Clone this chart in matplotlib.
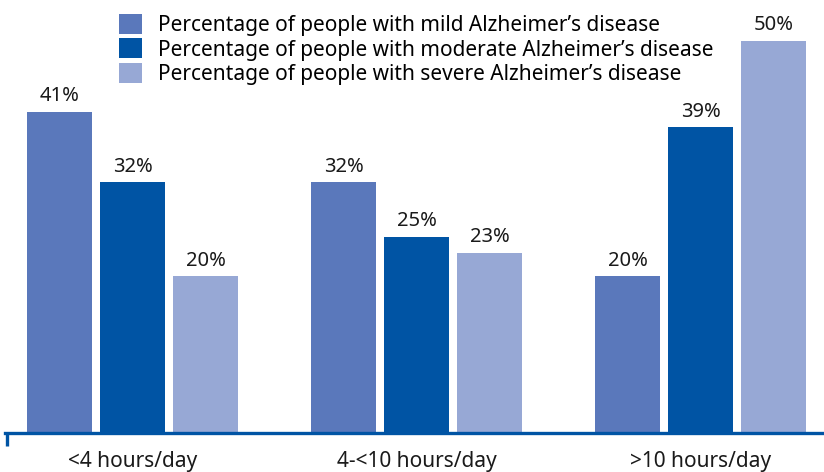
import matplotlib
matplotlib.use("Agg")
import matplotlib.pyplot as plt
from matplotlib.patches import Patch
import numpy as np

categories = ["<4 hours/day", "4-<10 hours/day", ">10 hours/day"]
series_names = ["Percentage of people with mild Alzheimer\u2019s disease",
                "Percentage of people with moderate Alzheimer\u2019s disease",
                "Percentage of people with severe Alzheimer\u2019s disease"]
mild = [41, 32, 20]
moderate = [32, 25, 39]
severe = [20, 23, 50]
colors = ["#5a78bb", "#0054a4", "#97a8d5"]

plt.rcParams['font.family'] = ['Noto Sans', 'DejaVu Sans']

W, H = 824, 472
fig = plt.figure(figsize=(W/100, H/100), dpi=100)
ax = fig.add_axes([5/W, 39/H, 1 - 5/W, 432/H])

x = np.arange(len(categories))
bw = 0.232
off = 0.257
for i, (vals, c) in enumerate(zip([mild, moderate, severe], colors)):
    pos = x + (i - 1) * off
    bars = ax.bar(pos, vals, width=bw, color=c, label=series_names[i])
    for b, v in zip(bars, vals):
        ax.annotate(f"{v}%", (b.get_x() + b.get_width()/2, v), xytext=(0, 4),
                    textcoords="offset points", ha="center", va="bottom",
                    fontsize=14.5, color="#1a1a1a")

ax.set_xlim(-0.449, 2.435)
ax.set_ylim(0, 55.1)
for s in ["top", "right", "left"]:
    ax.spines[s].set_visible(False)
ax.spines["bottom"].set_color("#0054a4")
ax.spines["bottom"].set_linewidth(2.4)
ax.set_yticks([])
ax.set_xticks(x)
ax.set_xticklabels(categories, fontsize=15, color="#1a1a1a")
ax.tick_params(axis="x", which="major", length=0, pad=13)
ax.set_xticks([-0.443], minor=True)
ax.tick_params(axis="x", which="minor", length=9, width=2.4, color="#0054a4", direction="out")

handles = [Patch(facecolor=c, edgecolor="none") for c in colors]
leg = fig.legend(handles, series_names, loc="upper left", bbox_to_anchor=(111/W, 1 - 6/H),
                 frameon=False, fontsize=15, handlelength=1.1, handleheight=1.1,
                 handletextpad=0.75, labelspacing=0.1, borderaxespad=0)

fig.savefig("out.png", dpi=100)
